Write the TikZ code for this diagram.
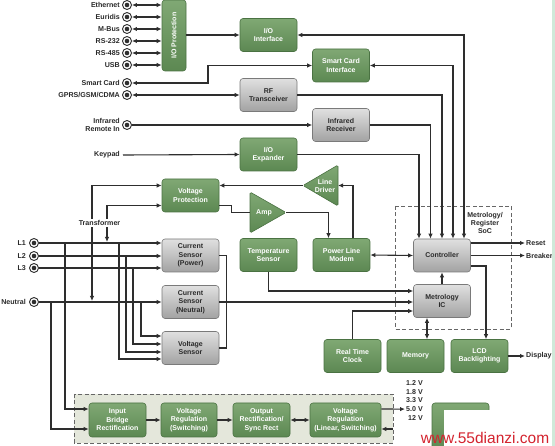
\documentclass[tikz,border=0pt]{standalone}
\usepackage{fontspec}
\setmainfont{Liberation Sans}
\newfontfamily\wmfont{Liberation Sans}
\usetikzlibrary{arrows.meta,calc}
\definecolor{linec}{HTML}{2E2E2E}
\definecolor{gtop}{HTML}{80A874}
\definecolor{gbot}{HTML}{5C8852}
\definecolor{gdraw}{HTML}{4A7242}
\definecolor{ytop}{HTML}{E0E0E0}
\definecolor{ybot}{HTML}{A2A2A2}
\definecolor{ydraw}{HTML}{7A7A7A}
\definecolor{psfill}{HTML}{E4E7DB}
\definecolor{stripc}{HTML}{CFE9D9}
\definecolor{wmred}{HTML}{D4232E}
\definecolor{txt}{HTML}{2A2A2A}
\newcommand\boxfont{\bfseries\fontsize{7}{8.5}\selectfont}
\newcommand\lblfont{\bfseries\fontsize{7.1}{8.7}\selectfont}
\tikzset{
 gbox/.style={draw=gdraw, line width=0.6pt, rounded corners=3pt, top color=gtop, bottom color=gbot,
   minimum width=57pt, minimum height=33pt, inner sep=0pt, align=center, text=white, font=\boxfont},
 ybox/.style={draw=ydraw, line width=0.6pt, rounded corners=3pt, top color=ytop, bottom color=ybot,
   minimum width=57pt, minimum height=33pt, inner sep=0pt, align=center, text=txt, font=\boxfont},
 gtri/.style={draw=gdraw, line width=0.6pt, rounded corners=1.5pt, top color=gtop, bottom color=gbot},
 lbl/.style={font=\lblfont, text=txt, inner sep=1pt, align=right},
 ln/.style={draw=linec, line width=1.1pt},
 arr/.style={ln, -{Latex[length=5pt,width=4.4pt]}},
 darr/.style={ln, {Latex[length=5pt,width=4.4pt]}-{Latex[length=5pt,width=4.4pt]}},
 conn/.style={circle, draw=linec, line width=0.9pt, fill=white, minimum size=9pt, inner sep=0pt,
   path picture={\fill[linec] (path picture bounding box.center) circle (2.3pt);}},
 dashbox/.style={draw=gray!80!black, line width=0.8pt, dash pattern=on 4pt off 2.5pt},
}
\begin{document}
\begin{tikzpicture}[x=1pt,y=-1pt]
\useasboundingbox (0,0) rectangle (555,446);
\fill[white] (0,0) rectangle (555,446);

% dashed groups
\path[dashbox, fill=psfill] (74,394) rectangle (393,443);
\path[dashbox] (395,206) rectangle (511,329);
\node[font=\boxfont, text=txt, align=center, inner sep=0pt] (soc) at (485,223) {Metrology/\\Register\\SoC};

% left connectors
\node[conn] (c1) at (127,5) {};
\node[conn] (c2) at (127,17) {};
\node[conn] (c3) at (127,29) {};
\node[conn] (c4) at (127,41) {};
\node[conn] (c5) at (127,53) {};
\node[conn] (c6) at (127,65) {};
\node[conn] (sc) at (127,83) {};
\node[conn] (gp) at (127,95) {};
\node[conn] (ir) at (127,125) {};
\node[lbl, anchor=east] (t1) at (121,5) {Ethernet};
\node[lbl, anchor=east] (t2) at (121,17) {Euridis};
\node[lbl, anchor=east] (t3) at (121,29) {M-Bus};
\node[lbl, anchor=east] (t4) at (121,41) {RS-232};
\node[lbl, anchor=east] (t5) at (121,53) {RS-485};
\node[lbl, anchor=east] (t6) at (121,65) {USB};
\node[lbl, anchor=east] (tsc) at (121,83) {Smart Card};
\node[lbl, anchor=east] (tgp) at (121,95) {GPRS/GSM/CDMA};
\node[lbl, anchor=east] (tir) at (121,125) {Infrared\\Remote In};
\node[lbl, anchor=east] (kp) at (121,155) {Keypad};

\node[conn] (l1) at (34,243) {};
\node[conn] (l2) at (34,256) {};
\node[conn] (l3) at (34,268) {};
\node[conn] (ne) at (34,302) {};
\node[lbl, anchor=east] (tl1) at (27,243) {L1};
\node[lbl, anchor=east] (tl2) at (27,256) {L2};
\node[lbl, anchor=east] (tl3) at (27,268) {L3};
\node[lbl, anchor=east] (tne) at (27,302) {Neutral};

% boxes
\node[gbox, minimum width=24pt, minimum height=71pt] (iop) at (174,35.5) {};
\node[rotate=90, text=white, font=\boxfont, inner sep=0pt] (iopt) at (iop.center) {I/O Protection};
\node[gbox] (ioif) at (268.5,35) {I/O\\Interface};
\node[gbox] (scif) at (341,65.5) {Smart Card\\Interface};
\node[ybox] (rf) at (268.5,95) {RF\\Transceiver};
\node[ybox] (irrx) at (341,125) {Infrared\\Receiver};
\node[gbox] (ioexp) at (268.5,154.5) {I/O\\Expander};
\node[gbox] (vprot) at (190.5,195.5) {Voltage\\Protection};
\node[ybox] (csp) at (190.5,255.5) {Current\\Sensor\\(Power)};
\node[ybox] (csn) at (190.5,302) {Current\\Sensor\\(Neutral)};
\node[ybox] (vs) at (190.5,348) {Voltage\\Sensor};
\node[gbox] (temp) at (268.5,255) {Temperature\\Sensor};
\node[gbox] (plm) at (341.5,255) {Power Line\\Modem};
\node[ybox] (ctrl) at (442,255.5) {Controller};
\node[ybox] (mic) at (442,301) {Metrology\\IC};
\node[gbox] (rtc) at (352.5,356) {Real Time\\Clock};
\node[gbox] (mem) at (415.5,356) {Memory};
\node[gbox] (lcd) at (479.5,356) {LCD\\Backlighting};
\node[gbox, minimum height=34pt] (ib) at (117.5,420) {Input\\Bridge\\Rectification};
\node[gbox, minimum height=34pt, minimum width=56pt] (vrs) at (189,420) {Voltage\\Regulation\\(Switching)};
\node[gbox, minimum height=34pt] (ors) at (261.5,420) {Output\\Rectification/\\Sync Rect};
\node[gbox, minimum height=34pt, minimum width=71pt] (vrl) at (345.5,420) {Voltage\\Regulation\\(Linear, Switching)};

% triangles
\path[gtri] (303,185.5) -- (338,165) -- (338,206) -- cycle;
\coordinate (ldapex) at (303,185.5);
\coordinate (ldbase) at (338,185.5);
\node[text=white, font=\boxfont, align=center, inner sep=0pt] (ld) at (325,186) {Line\\Driver};
\path[gtri] (250,192) -- (286,212.5) -- (250,233) -- cycle;
\coordinate (ampin) at (250,212.5);
\coordinate (ampout) at (286,212.5);
\node[text=white, font=\boxfont, inner sep=0pt] (amp) at (264,213) {Amp};

% right labels
\node[lbl, anchor=west] (rst) at (525,243) {Reset};
\node[lbl, anchor=west] (brk) at (525,255.5) {Breaker};
\node[lbl, anchor=west] (disp) at (525,356) {Display};

% voltage outputs
\node[lbl, anchor=east] (v12) at (424,383) {1.2 V};
\node[lbl, anchor=east] (v18) at (424,391.7) {1.8 V};
\node[lbl, anchor=east] (v33) at (424,400.4) {3.3 V};
\node[lbl, anchor=east] (v50) at (424,409.1) {5.0 V};
\node[lbl, anchor=east] (v120) at (424,417.8) {12 V};
\coordinate (vin) at (393,429);

% interface arrows
\foreach \c in {c1,c2,c3,c4,c5,c6} \draw[darr] (\c.east) -- (\c.east -| iop.west);
\draw[arr] (ioif.west -| iop.east) -- (ioif.west);
\coordinate (scb) at (208,83);
\draw[darr] (sc.east) -- (scb) |- (scif.west);
\draw[darr] (gp.east) -- (rf.west);
\draw[arr] (ir.east) -- (irrx.west);
\draw[arr] ([xshift=2pt]kp.east) -- (ioexp.west);

% into controller
\draw[darr] (ioif.east) -| ([xshift=22pt]ctrl.north);
\draw[darr] (scif.east) -| ([xshift=11pt]ctrl.north);
\draw[arr] (rf.east) -| (ctrl.north);
\draw[arr] (irrx.east) -| ([xshift=-11.5pt]ctrl.north);
\draw[arr] (ioexp.east) -| ([xshift=-23pt]ctrl.north);

% power line path
\draw[arr] (ldapex) -- (vprot.east |- ldapex);
\draw[arr] ([xshift=11.5pt]plm.north) |- (ldbase);
\draw[ln] ([yshift=-10pt]vprot.east) -- ++(12,0) |- (ampin);
\draw[arr] (ampout) -| ([xshift=-13pt]plm.north);
\draw[darr] (plm.east) -- (ctrl.west);

% mains
\draw[arr] (l1.east) -- (csp.west |- l1);
\draw[arr] (l2.east) -- (csp.west |- l2);
\draw[arr] (l3.east) -- (csp.west |- l3);
\draw[arr] (ne.east) -- (csn.west |- ne);
\coordinate (v1) at (119,243);
\coordinate (v2) at (126,256);
\coordinate (v3) at (133,268);
\coordinate (v4) at (141,302);
\draw[arr] (v1) |- ([yshift=-11pt]vs.west);
\draw[arr] (v2) |- ([yshift=-4pt]vs.west);
\draw[arr] (v3) |- ([yshift=4pt]vs.west);
\draw[arr] (v4) |- ([yshift=12pt]vs.west);
\coordinate (p1) at (65,243);
\coordinate (p2) at (51,302);
\draw[arr] (p1) |- ([yshift=11pt]ib.west);
\draw[arr] (p2) |- ([yshift=-9pt]ib.west);

% transformer
\coordinate (tfa) at (92,301);
\coordinate (tfb) at (107,242);
\draw[darr] (tfa) |- ([yshift=10pt]vprot.west);
\draw[darr] (tfb) |- ([yshift=-10pt]vprot.west);
\node[lbl, fill=white, inner sep=1.5pt] (tf) at (99.5,223) {Transformer};

% sensors to metrology
\draw[ln] (csp.east) -- ++(7,0) |- (vs.east);
\draw[arr] (csn.east) -- (csn.east -| mic.west);
\draw[arr] (temp.south) |- ([yshift=10pt]mic.west);
\draw[arr] (rtc.north) |- ([yshift=-10pt]mic.west);
\draw[arr] (mic.north) -- (ctrl.south);
\draw[darr] ([xshift=-15pt]mic.south) -- ([xshift=-15pt]mic.south |- mem.north);

% controller outputs
\draw[arr] ([yshift=12.5pt]ctrl.east) -- (rst.west);
\draw[arr] (ctrl.east) -- (brk.west);
\draw[arr] ([yshift=-10.5pt]ctrl.east) -| ([xshift=6.5pt]lcd.north);
\draw[arr] (lcd.east) -- (disp.west);

% power supply chain
\draw[arr] (ib.east) -- (vrs.west);
\draw[arr] (vrs.east) -- (ors.west);
\draw[darr] (ors.east) -- (vrl.west);
\draw[arr] ([yshift=11pt]vrl.east) -- (v50.west);
\draw[arr] (vin) -- (vin -| vrl.east);

% partially hidden box and watermark
\path[gbox] (432,403) rectangle (489,450);
\fill[white] (444,410) rectangle (552,446);
\node[font=\wmfont\fontsize{15.5}{16}\selectfont, text=wmred, inner sep=0pt] (wm) at (485,437.5) {www.55dianzi.com};

% right strip
\fill[stripc] (552,0) rectangle (555,446);
\end{tikzpicture}
\end{document}
